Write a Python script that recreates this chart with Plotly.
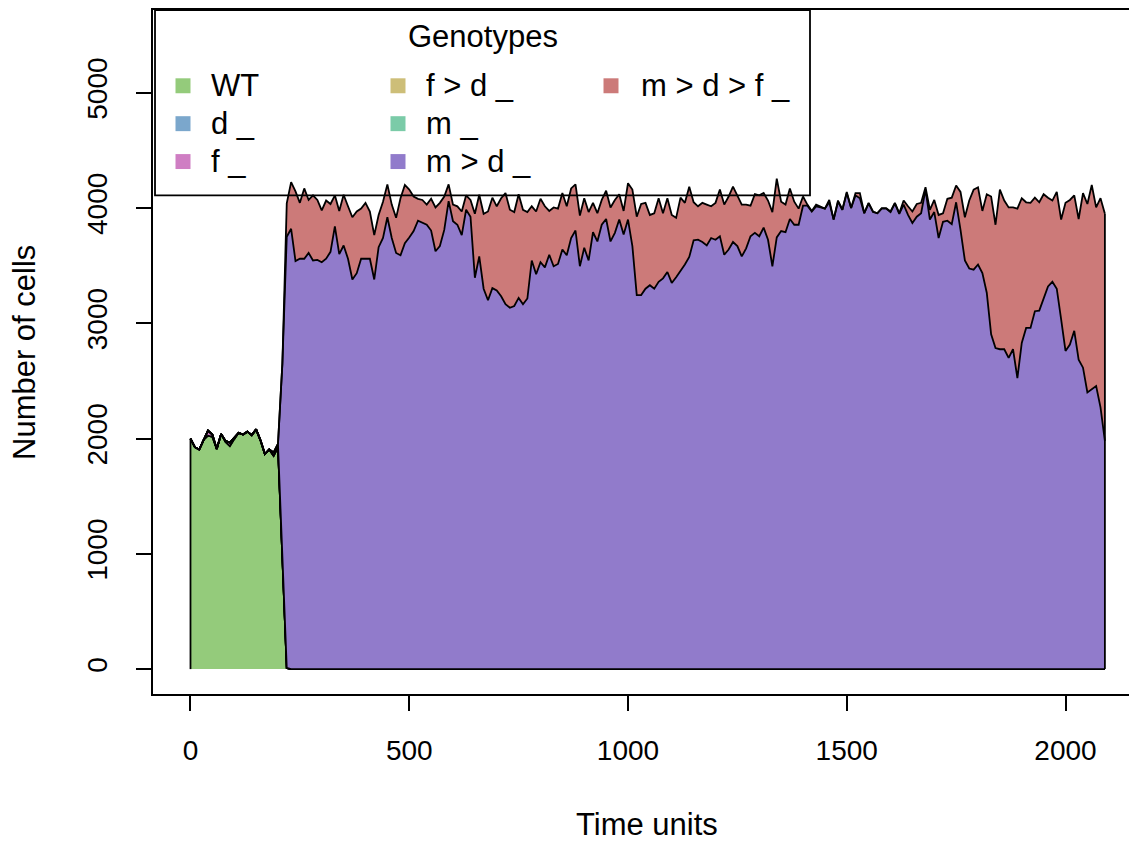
import plotly.graph_objects as go

# time points (every 10 time units)
time = list(range(0, 2091, 10))

genotypes = ["WT", "d _", "f _", "f > d _", "m _", "m > d _", "m > d > f _"]
colors = ["#94CB7B", "#7BA7CC", "#CF7EC3", "#CDBE78", "#7BCBA8", "#917BCB", "#CC7A79"]

# population sizes per genotype
wt = [2000, 1925, 1905, 1990, 2025, 2015, 1910, 2040, 1970, 1935, 1995,
      2050, 2035, 2060, 2030, 2080, 1985, 1865, 1905, 1850, 1925, 1000, 10] + [0] * 187
d_ = [0] * 210
f_ = [0, 0, 0, 0, 45, 20, 0, 0, 10, 30, 15] + [0] * 199
fd_ = [0] * 210
m_ = [0] * 19 + [30, 20] + [0] * 189

md_ = [0] * 20 + [10, 1650, 3740] + [
    3820, 3540, 3560, 3560, 3610, 3545, 3550, 3530, 3560, 3620,
    3840, 3600, 3675, 3560, 3380, 3435, 3560, 3560, 3560, 3380,
    3660, 3740, 3920, 3740, 3610, 3590, 3695, 3745, 3800, 3890,
    3870, 3855, 3805, 3625, 3670, 3810, 4060, 3885, 3855, 3765,
    3985, 3925, 3395, 3580, 3300, 3200, 3305, 3285, 3235, 3165,
    3135, 3150, 3220, 3165, 3215, 3545, 3425, 3530, 3485, 3595,
    3495, 3515, 3640, 3590, 3740, 3805, 3495, 3655, 3545, 3790,
    3710, 3855, 3905, 3710, 3785, 3900, 3770, 3900, 3670, 3245,
    3245, 3300, 3330, 3300, 3360, 3390, 3445, 3350, 3400, 3450,
    3510, 3575, 3720, 3725, 3705, 3675, 3740, 3725, 3755, 3595,
    3640, 3705, 3670, 3580, 3650, 3755, 3785, 3755, 3830, 3725,
    3495, 3745, 3800, 3790, 3905, 3855, 3855, 4020, 4020, 3970,
    4015, 4005, 3995, 4050, 3900, 4055, 3985, 4130, 4000, 4110,
    4085, 3955, 4040, 3965, 3955, 3995, 3995, 3965, 4040, 3950,
    4030, 3940, 3870, 3925, 3955, 4160, 3900, 3965, 3740, 3880,
    3890, 3860, 4050, 3810, 3545, 3475, 3465, 3510, 3435, 3265,
    2905, 2785, 2775, 2775, 2700, 2775, 2525, 2830, 2960, 2960,
    3105, 3110, 3220, 3320, 3360, 3300, 3035, 2760, 2815, 2935,
    2685, 2615, 2400, 2430, 2455, 2270, 1980]

mdf_ = [0] * 22 + [290] + [
    405, 605, 485, 610, 460, 565, 520, 450, 505, 415,
    270, 375, 440, 455, 540, 535, 435, 485, 410, 385,
    280, 315, 285, 290, 305, 495, 505, 415, 300, 190,
    200, 175, 275, 380, 375, 290, 145, 145, 160, 205,
    125, 145, 555, 535, 650, 770, 785, 730, 850, 965,
    850, 815, 900, 820, 750, 470, 545, 550, 530, 380,
    510, 480, 490, 425, 430, 400, 440, 430, 420, 255,
    245, 215, 245, 295, 285, 220, 205, 315, 490, 680,
    790, 745, 610, 655, 725, 565, 640, 590, 515, 640,
    535, 610, 330, 290, 340, 355, 275, 320, 405, 435,
    460, 480, 440, 450, 380, 265, 335, 355, 300, 340,
    470, 510, 255, 240, 265, 200, 140, 80, 10, 5,
    15, 10, 0, 20, 0, 10, 0, 10, 0, 20,
    45, 0, 5, 5, 0, 5, 5, 5, 5, 5,
    35, 75, 100, 110, 90, 20, 85, 105, 200, 75,
    190, 230, 145, 330, 375, 590, 695, 670, 540, 855,
    1195, 1070, 1385, 1290, 1305, 1230, 1470, 1255, 1090, 1085,
    985, 940, 900, 770, 705, 840, 865, 1285, 1255, 1175,
    1220, 1515, 1635, 1770, 1550, 1815, 1970]

series = [wt, d_, f_, fd_, m_, md_, mdf_]

FONT = "Liberation Sans, Arial, sans-serif"
FS = 28
FS_LEG = 31
FS_TITLE = 31
LW = 1.8

# the page puts the figure at (8, 8); plot area given in page pixels
OFF = 8
FIG_W, FIG_H = 1137 - OFF, 841 - OFF
PL, PT, PR, PB = 153, 8, 1137, 694


def xp(x):
    return (x - PL) / (PR - PL)


def yp(y):
    return (PB - y) / (PB - PT)


fig = go.Figure()

for name, vals, col in zip(genotypes, series, colors):
    fig.add_trace(go.Scatter(
        x=time, y=vals, name=name, mode="lines", stackgroup="one",
        line=dict(color="black", width=LW), fillcolor=col,
        showlegend=False, hoverinfo="x+y+name"))

# closing vertical edges of the polygons
total = [sum(s[i] for s in series) for i in range(len(time))]
fig.add_trace(go.Scatter(
    x=[time[0], time[0], None, time[-1], time[-1]],
    y=[0, total[0], None, 0, total[-1]],
    mode="lines", line=dict(color="black", width=LW),
    showlegend=False, hoverinfo="skip"))

shapes = []
annotations = []

# legend box (transparent, like base R)
shapes.append(dict(type="rect", xref="paper", yref="paper",
                   x0=xp(155), x1=xp(810), y0=yp(194), y1=yp(8),
                   line=dict(color="black", width=LW), fillcolor="rgba(0,0,0,0)"))
annotations.append(dict(text="Genotypes", xref="paper", yref="paper",
                        x=xp(483), y=yp(35), showarrow=False,
                        xanchor="center", yanchor="middle",
                        font=dict(family=FONT, size=FS_LEG, color="black")))

col_sq = [183, 398, 611]
col_txt = [209, 424, 639]
row_y = [84, 122, 160]
for i, (name, col) in enumerate(zip(genotypes, colors)):
    c, r = divmod(i, 3)
    cx, cy = col_sq[c], row_y[r]
    shapes.append(dict(type="rect", xref="paper", yref="paper",
                       x0=xp(cx - 7.5), x1=xp(cx + 7.5),
                       y0=yp(cy + 7.5), y1=yp(cy - 7.5),
                       line=dict(width=0), fillcolor=col))
    annotations.append(dict(text=name, xref="paper", yref="paper",
                            x=xp(col_txt[c]), y=yp(cy), showarrow=False,
                            xanchor="left", yanchor="middle",
                            font=dict(family=FONT, size=FS_LEG, color="black")))

# axis titles
annotations.append(dict(text="Time units", xref="paper", yref="paper",
                        x=xp(647), y=yp(825), showarrow=False,
                        xanchor="center", yanchor="middle",
                        font=dict(family=FONT, size=FS_TITLE, color="black")))
annotations.append(dict(text="Number of cells", xref="paper", yref="paper",
                        x=xp(25), y=yp(352), showarrow=False, textangle=-90,
                        xanchor="center", yanchor="middle",
                        font=dict(family=FONT, size=FS_TITLE, color="black")))

fig.update_layout(
    width=FIG_W, height=FIG_H,
    margin=dict(l=PL - OFF, r=FIG_W - (PR - OFF), t=PT - OFF, b=FIG_H - (PB - OFF)),
    paper_bgcolor="white", plot_bgcolor="white",
    font=dict(family=FONT, size=FS, color="black"),
    shapes=shapes, annotations=annotations,
    showlegend=False,
)

# the plot box runs past the right edge of the picture, so no right border
fig.update_xaxes(
    range=[-85.7, 2163.4], tickvals=[0, 500, 1000, 1500, 2000],
    showgrid=False, zeroline=False,
    showline=True, linecolor="black", linewidth=LW, mirror=True,
    ticks="outside", ticklen=15, tickwidth=LW, tickcolor="black",
    ticklabelstandoff=15,
)
fig.update_yaxes(
    range=[-216, 5718], tickvals=[0, 1000, 2000, 3000, 4000, 5000],
    tickangle=-90,
    showgrid=False, zeroline=False,
    showline=True, linecolor="black", linewidth=LW, mirror=False,
    ticks="outside", ticklen=15, tickwidth=LW, tickcolor="black",
    ticklabelstandoff=18,
)

fig.write_html("out.html")
